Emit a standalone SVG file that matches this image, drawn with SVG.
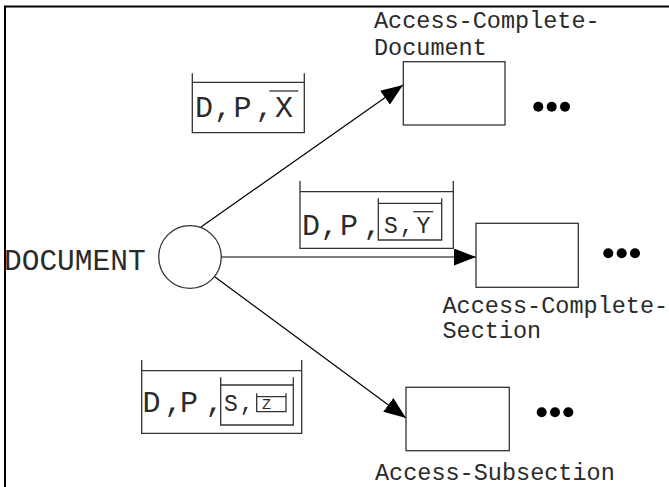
<svg xmlns="http://www.w3.org/2000/svg" width="669" height="487" viewBox="0 0 669 487">
<defs>
<marker id="ah" viewBox="0 0 22 17" refX="22" refY="8.5" markerWidth="22" markerHeight="17" markerUnits="userSpaceOnUse" orient="auto">
<path d="M0,0 L22,8.5 L0,17 Z" fill="#000"/>
</marker>
</defs>
<style>
.frame{stroke:#000;stroke-width:2;fill:none}
.b{stroke:#333;stroke-width:1.3;fill:none}
.box{stroke:#333;stroke-width:1.3;fill:#fff}
.c{stroke:#000;stroke-width:1.2;fill:none;marker-end:url(#ah)}
.big{font-family:"Liberation Mono","Courier New",monospace;font-size:30px;fill:#2a2a2a}
.mid{font-family:"Liberation Mono","Courier New",monospace;font-size:23px;fill:#2a2a2a}
.sm{font-family:"Liberation Mono","Courier New",monospace;font-size:15px;fill:#2a2a2a}
.lab{font-family:"Liberation Mono","Courier New",monospace;font-size:23.5px;fill:#2a2a2a}
.doc{font-family:"Liberation Mono","Courier New",monospace;font-size:29.5px;fill:#2a2a2a}
.ol{stroke:#333;stroke-width:1.3}
.dot{fill:#000}
</style>
<rect width="669" height="487" fill="#fff"/>
<path class="frame" d="M5,487 V6.5 H669"/>

<g id="connectors">
<line class="c" x1="201" y1="227" x2="403" y2="85"/>
<line class="c" x1="221" y1="257" x2="476" y2="257"/>
<line class="c" x1="215" y1="277" x2="406" y2="418"/>
</g>

<g id="document">
<circle cx="190" cy="257" r="31.3" fill="#fff" stroke="#333" stroke-width="1.3"/>
<text class="doc" x="4" y="270">DOCUMENT</text>
</g>

<g id="label-x">
<path class="b" d="M192.3,73.3 V132.7 H304.3 V73.3 M192.3,82.3 H304.3"/>
<text class="big" x="195 214 233.5 255.5 275" y="116.7">D,P,X</text>
<line class="ol" x1="269.3" y1="91" x2="298.3" y2="91"/>
</g>

<g id="label-y">
<path class="b" d="M300,181 V248.3 H453.3 V181 M300,191.7 H453.3"/>
<text class="big" x="302 320.5 340 363.5" y="235">D,P,</text>
<path class="b" d="M378.3,198.3 V240 H441.7 V198.3 M378.3,203.3 H441.7"/>
<text class="mid" x="384 399.8 416.4" y="233.3">S,Y</text>
<line class="ol" x1="413.3" y1="211.7" x2="433.3" y2="211.7"/>
</g>

<g id="label-z">
<path class="b" d="M141.7,360 V433.3 H301.7 V360 M141.7,370.7 H301.7"/>
<text class="big" x="142.5 164.5 180 205.5" y="412">D,P,</text>
<path class="b" d="M220.7,377.3 V425 H293.3 V377.3 M220.7,385 H293.3"/>
<text class="mid" x="224 239.8" y="410.7">S,</text>
<path class="b" d="M256.7,393.3 V411.7 H286 V393.3 M256.7,396.7 H286"/>
<text class="sm" x="262" y="409">Z</text>
</g>

<g id="access-complete-document">
<rect class="box" x="403.3" y="61.7" width="101.7" height="63.3"/>
<text class="lab" x="374" y="28.3">Access-Complete-</text>
<text class="lab" x="374" y="55">Document</text>
<circle class="dot" cx="538.3" cy="106.7" r="5"/>
<circle class="dot" cx="551.7" cy="106.7" r="5"/>
<circle class="dot" cx="565" cy="106.7" r="5"/>
</g>

<g id="access-complete-section">
<rect class="box" x="476" y="223.3" width="102.3" height="64"/>
<text class="lab" x="442.5" y="312.5">Access-Complete-</text>
<text class="lab" x="442.5" y="338">Section</text>
<circle class="dot" cx="608.3" cy="253.3" r="5"/>
<circle class="dot" cx="621.7" cy="253.3" r="5"/>
<circle class="dot" cx="635" cy="253.3" r="5"/>
</g>

<g id="access-subsection">
<rect class="box" x="406" y="387.3" width="103.3" height="63.4"/>
<text class="lab" x="375" y="480">Access-Subsection</text>
<circle class="dot" cx="541.7" cy="412.3" r="5"/>
<circle class="dot" cx="555" cy="412.3" r="5"/>
<circle class="dot" cx="568.3" cy="412.3" r="5"/>
</g>
</svg>
